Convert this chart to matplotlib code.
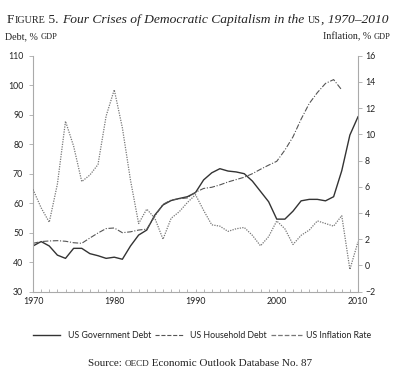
import numpy as np
import matplotlib
matplotlib.use("Agg")
import matplotlib.pyplot as plt
from matplotlib.ticker import MultipleLocator

years = list(range(1970, 2011))

gov_debt = [45.5, 47.0, 45.5, 42.4, 41.3, 44.7, 44.7, 42.9, 42.2, 41.3,
            41.7, 41.0, 45.5, 49.2, 50.9, 56.0, 59.4, 60.9, 61.6, 62.2,
            63.6, 67.9, 70.3, 71.7, 70.9, 70.6, 70.0, 67.5, 64.0, 60.5,
            54.6, 54.6, 57.3, 60.8, 61.3, 61.3, 60.8, 62.2, 71.0, 83.1,
            89.3]

hh_debt = [46.4, 47.0, 47.2, 47.3, 47.1, 46.6, 46.4, 48.2, 49.9, 51.4,
           51.6, 50.0, 50.3, 50.9, 51.2, 55.6, 59.6, 61.1, 61.5, 61.8,
           63.7, 65.0, 65.4, 66.2, 67.2, 68.0, 68.8, 70.0, 71.5, 72.9,
           74.2, 78.0, 82.5, 88.5, 93.8, 97.5, 100.6, 101.9, 98.4]
hh_years = years[:len(hh_debt)]

inflation = [5.8, 4.4, 3.3, 6.2, 11.0, 9.1, 6.4, 6.9, 7.7, 11.4,
             13.4, 10.5, 6.5, 3.2, 4.3, 3.6, 2.0, 3.6, 4.1, 4.8,
             5.4, 4.2, 3.1, 3.0, 2.6, 2.8, 2.9, 2.3, 1.5, 2.2,
             3.4, 2.8, 1.6, 2.3, 2.7, 3.4, 3.2, 3.0, 3.8, -0.3,
             1.8]

legend_labels = ["US Government Debt", "US Household Debt", "US Inflation Rate"]

SERIF = ["Liberation Serif", "DejaVu Serif"]
SANS = ["Lato", "DejaVu Sans"]
AXC = "#aaaaaa"

fig = plt.figure(figsize=(4.0, 3.78), dpi=100)
W, H = 400, 378

ax = fig.add_axes([33 / W, 1 - 291.7 / H, (358 - 33) / W, (291.7 - 55.7) / H])
ax2 = ax.twinx()

l1, = ax.plot(years, gov_debt, color="#333333", lw=1.0, ls="-")
l2, = ax.plot(hh_years, hh_debt, color="#555555", lw=0.8, ls=(0, (5, 1.5, 1, 1.5)))
l3, = ax2.plot(years, inflation, color="#777777", lw=0.9, ls=(0, (1, 1)))

ax.set_xlim(1970, 2010)
ax.set_ylim(30, 110)
ax2.set_ylim(-2, 16)
ax.yaxis.set_major_locator(MultipleLocator(10))
ax2.yaxis.set_major_locator(MultipleLocator(2))
ax.xaxis.set_major_locator(MultipleLocator(10))
ax.xaxis.set_minor_locator(MultipleLocator(1))

for a in (ax, ax2):
    for s in a.spines.values():
        s.set_color(AXC)
        s.set_linewidth(0.8)
    a.spines["top"].set_visible(False)
ax.spines["right"].set_visible(False)
ax2.spines["left"].set_visible(False)
ax2.spines["bottom"].set_visible(False)

ax.tick_params(axis="y", direction="out", length=3, width=0.6, color=AXC,
               labelsize=6.3, pad=4, labelcolor="#222222")
ax2.tick_params(axis="y", direction="out", length=3, width=0.6, color=AXC,
                labelsize=6.3, pad=2, labelcolor="#222222")
ax.tick_params(axis="x", which="both", direction="in", length=2, width=0.6,
               color=AXC, labelsize=6.3, pad=4, labelcolor="#222222")
for lab in ax.get_xticklabels() + ax.get_yticklabels() + ax2.get_yticklabels():
    lab.set_family(SANS)

# legend drawn by hand to match spacing
leg_y = 335
items = [(l1, 33, 60, 68), (l2, 155, 184, 190), (l3, 271, 302, 306)]
for (ln, x0, x1, tx), lab in zip(items, legend_labels):
    fig.add_artist(plt.Line2D([x0 / W, x1 / W], [1 - leg_y / H] * 2,
                              color=ln.get_color(), lw=ln.get_linewidth(),
                              ls=ln.get_linestyle(), transform=fig.transFigure))
    fig.text(tx / W, 1 - leg_y / H, lab, family=SANS, fontsize=6.3,
             va="center", ha="left", color="#222222")

renderer = fig.canvas.get_renderer()


def runs(x, y, parts, ha="left", color="#222222", fit=None):
    # place consecutive text pieces (for fake small caps)
    def make(scale):
        out = []
        for txt, size, style in parts:
            out.append(fig.text(0, 0, txt, family=SERIF, fontsize=size * scale,
                                style=style, va="baseline", ha="left", color=color))
        return out
    objs = make(1.0)
    widths = [o.get_window_extent(renderer).width for o in objs]
    if fit:
        k = fit / sum(widths)
        for o in objs:
            o.remove()
        objs = make(k)
        widths = [o.get_window_extent(renderer).width for o in objs]
    total = sum(widths)
    start = x - total if ha == "right" else (x - total / 2 if ha == "center" else x)
    cur = start
    for o, w in zip(objs, widths):
        o.set_position((cur / W, 1 - y / H))
        cur += w


title_parts = [("F", 11.5, "normal"), ("IGURE", 8.6, "normal"), (" 5. ", 11.5, "normal"),
               ("Four Crises of Democratic Capitalism in the ", 11.5, "italic"),
               ("US", 8.6, "normal"), (", 1970–2010", 11.5, "italic")]
runs(7, 23, title_parts, fit=381)

runs(5, 39, [("Debt, % ", 7.2, "normal"), ("GDP", 6.0, "normal")])
runs(391, 39, [("Inflation, % ", 7.2, "normal"), ("GDP", 6.0, "normal")], ha="right")
runs(200, 366, [("Source: ", 8.0, "normal"), ("OECD", 6.6, "normal"),
                (" Economic Outlook Database No. 87", 8.0, "normal")], ha="center")

fig.savefig("out.png", dpi=100)
